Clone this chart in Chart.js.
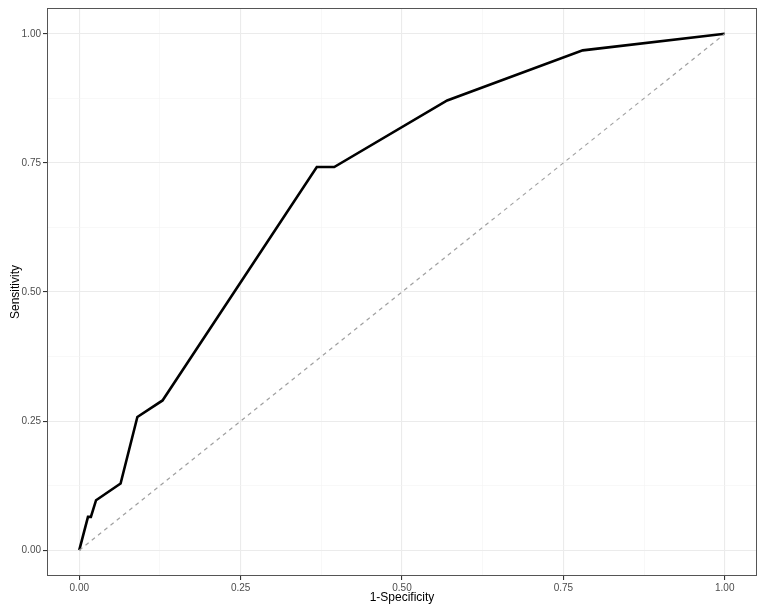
<!DOCTYPE html>
<html>
<head>
<meta charset="utf-8">
<script src="https://cdn.jsdelivr.net/npm/chart.js@4/dist/chart.umd.min.js"></script>
<style>
  body { margin: 0; background: #fff; }
  #roc { display: block; }
</style>
</head>
<body>
<canvas id="roc" width="765" height="609"></canvas>
<script>
// ROC curve points
const fpr = [0, 0.0135, 0.018, 0.026, 0.064, 0.09, 0.129, 0.368, 0.395, 0.57, 0.78, 1];
const tpr = [0, 0.0645, 0.0645, 0.0968, 0.129, 0.258, 0.290, 0.742, 0.742, 0.871, 0.968, 1];
const refX = [0, 1];
const refY = [0, 1];
const gridValues = [0, 0.125, 0.25, 0.375, 0.5, 0.625, 0.75, 0.875, 1];
const majorValues = [0, 0.25, 0.5, 0.75, 1];

const isMajor = v => majorValues.some(m => Math.abs(m - v) < 1e-6);

const panelBorder = {
  id: "panelBorder",
  afterDraw(chart) {
    const a = chart.chartArea;
    const ctx = chart.ctx;
    ctx.save();
    ctx.strokeStyle = "#555";
    ctx.lineWidth = 1;
    ctx.strokeRect(a.left + 0.5, a.top + 0.5, a.right - a.left - 1, a.bottom - a.top - 1);
    ctx.restore();
  }
};

function axisOptions(title, fixSize) {
  return {
    type: "linear",
    min: -0.05,
    max: 1.05,
    afterBuildTicks: scale => {
      scale.ticks = gridValues.map(v => ({ value: v }));
    },
    afterFit: fixSize,
    border: { display: false },
    grid: {
      color: ctx => isMajor(ctx.tick.value) ? "#ebebeb" : "#f4f4f4",
      lineWidth: ctx => isMajor(ctx.tick.value) ? 1.1 : 0.6,
      tickColor: ctx => isMajor(ctx.tick.value) ? "#333" : "rgba(0,0,0,0)",
      tickLength: 4
    },
    ticks: {
      autoSkip: false,
      maxRotation: 0,
      padding: 2,
      color: "#4d4d4d",
      font: { family: "Liberation Sans", size: 10 },
      callback: v => isMajor(v) ? v.toFixed(2) : ""
    },
    title: {
      display: true,
      text: title,
      color: "#000",
      font: { family: "Liberation Sans", size: 12 },
      padding: { top: 8, bottom: 4 }
    }
  };
}

const ctx = document.getElementById("roc").getContext("2d");

new Chart(ctx, {
  type: "scatter",
  data: {
    datasets: [
      {
        label: "reference",
        data: refX.map((x, i) => ({ x: x, y: refY[i] })),
        showLine: true,
        borderColor: "#a0a0a0",
        borderWidth: 1.2,
        borderDash: [4, 4],
        pointRadius: 0
      },
      {
        label: "ROC",
        data: fpr.map((x, i) => ({ x: x, y: tpr[i] })),
        showLine: true,
        borderColor: "#000",
        borderWidth: 2.6,
        pointRadius: 0,
        tension: 0
      }
    ]
  },
  options: {
    responsive: false,
    animation: false,
    layout: { padding: { top: 8, right: 8, left: 0, bottom: 0 } },
    plugins: {
      legend: { display: false },
      tooltip: { enabled: false }
    },
    scales: {
      x: axisOptions("1-Specificity", s => { s.height = 33; }),
      y: axisOptions("Sensitivity", s => { s.width = 47; })
    }
  },
  plugins: [panelBorder]
});
</script>
</body>
</html>
